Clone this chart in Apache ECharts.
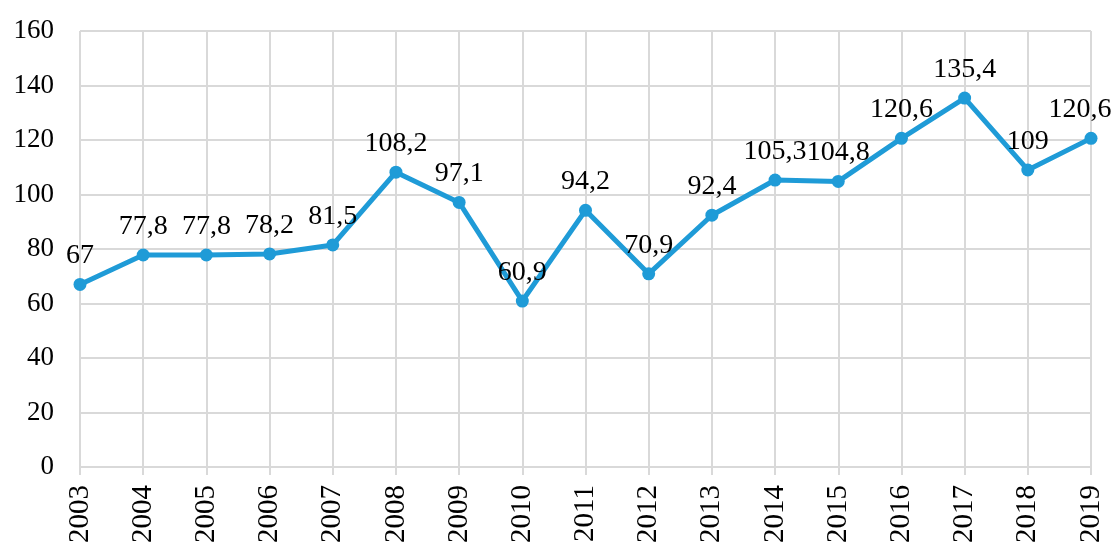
<!DOCTYPE html>
<html>
<head>
<meta charset="utf-8">
<script src="https://cdn.jsdelivr.net/npm/echarts@6/dist/echarts.min.js"></script>
<style>html,body{margin:0;padding:0;background:#fff}#c{width:1115px;height:543px}</style>
</head>
<body>
<div id="c"></div>
<script>
const years = ['2003','2004','2005','2006','2007','2008','2009','2010','2011','2012','2013','2014','2015','2016','2017','2018','2019'];
const values = [67, 77.8, 77.8, 78.2, 81.5, 108.2, 97.1, 60.9, 94.2, 70.9, 92.4, 105.3, 104.8, 120.6, 135.4, 109, 120.6];
const leftShifted = ['2019'];

const fmt = v => String(v).replace('.', ',');
const chart = echarts.init(document.getElementById('c'));
chart.setOption({
  animation: false,
  grid: {left: 80, right: 24, top: 31, bottom: 76, containLabel: false, outerBoundsMode: 'none'},
  xAxis: {
    type: 'category', data: years, boundaryGap: false,
    axisLine: {show: true, lineStyle: {color: '#d9d9d9', width: 2}},
    axisTick: {show: true, alignWithLabel: true, length: 8, lineStyle: {color: '#d9d9d9', width: 2}},
    axisLabel: {rotate: 90, margin: 18, color: '#000', fontFamily: 'Liberation Serif', fontSize: 29},
    splitLine: {show: true, lineStyle: {color: '#d9d9d9', width: 2}}
  },
  yAxis: {
    type: 'value', min: 0, max: 160, interval: 20,
    axisLine: {show: false}, axisTick: {show: false},
    axisLabel: {margin: 26, color: '#000', fontFamily: 'Liberation Serif', fontSize: 27},
    splitLine: {lineStyle: {color: '#d9d9d9', width: 2}}
  },
  series: [{
    type: 'line',
    data: values.map((v, i) => leftShifted.includes(years[i]) ? {value: v, label: {offset: [-11, 0]}} : v),
    lineStyle: {color: '#1f9bd7', width: 5},
    itemStyle: {color: '#1f9bd7'},
    symbol: 'circle', symbolSize: 13,
    label: {show: true, position: 'top', distance: 8, color: '#000', fontFamily: 'Liberation Serif', fontSize: 28,
      formatter: p => fmt(p.value)}
  }]
});
</script>
</body>
</html>
